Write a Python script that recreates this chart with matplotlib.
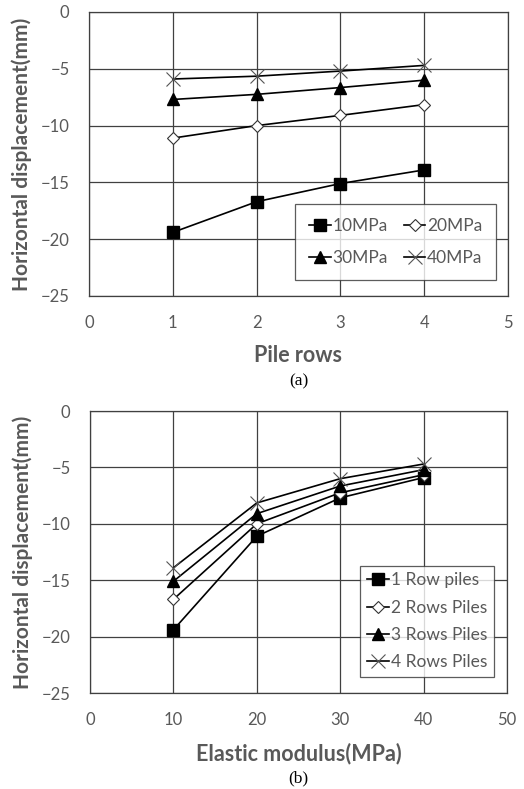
import matplotlib.pyplot as plt

plt.rcParams['font.family'] = ['Lato', 'DejaVu Sans']

pile_rows = [1, 2, 3, 4]
moduli = [10, 20, 30, 40]

# horizontal displacement (mm) per modulus, over pile rows 1..4
disp_10 = [-19.4, -16.7, -15.1, -13.9]
disp_20 = [-11.1, -10.0, -9.1, -8.15]
disp_30 = [-7.7, -7.25, -6.65, -6.0]
disp_40 = [-5.9, -5.65, -5.2, -4.7]

mod_labels = ["10MPa", "20MPa", "30MPa", "40MPa"]
row_labels = ["1 Row piles", "2 Rows Piles", "3 Rows Piles", "4 Rows Piles"]

styles = [
    dict(marker="s", markersize=8, markerfacecolor="black", markeredgecolor="black"),
    dict(marker="D", markersize=6, markerfacecolor="white", markeredgecolor="#333333", markeredgewidth=0.8),
    dict(marker="^", markersize=9, markerfacecolor="black", markeredgecolor="black"),
    dict(marker="x", markersize=10, markeredgecolor="#555555", markeredgewidth=0.8),
]

txt = "#595959"
grid_c = "#404040"

fig = plt.figure(figsize=(5.24, 7.89), dpi=100)
W, H = 524, 789
ax1 = fig.add_axes([89 / W, 1 - 296 / H, (508 - 89) / W, (296 - 12) / H])
ax2 = fig.add_axes([90 / W, 1 - 693 / H, (507 - 90) / W, (693 - 411) / H])


def style_axis(ax):
    ax.set_ylim(-25, 0)
    ax.set_yticks([0, -5, -10, -15, -20, -25])
    ax.grid(True, color=grid_c, linewidth=0.9)
    ax.set_axisbelow(True)
    for s in ax.spines.values():
        s.set_color(grid_c)
        s.set_linewidth(0.9)
    ax.tick_params(length=0, labelsize=12, labelcolor=txt, pad=14)
    ax.set_ylabel("Horizontal displacement(mm)", fontsize=15, fontweight="bold",
                  color=txt, labelpad=6)


series = [disp_10, disp_20, disp_30, disp_40]
for vals, lab, st in zip(series, mod_labels, styles):
    ax1.plot(pile_rows, vals, color="black", linewidth=1.2, label=lab, **st)
style_axis(ax1)
ax1.set_xlim(0, 5)
ax1.set_xticks([0, 1, 2, 3, 4, 5])
ax1.set_xlabel("Pile rows", fontsize=15.5, fontweight="bold", color=txt, labelpad=10)
h, l = ax1.get_legend_handles_labels()
order = [0, 2, 1, 3]
leg1 = ax1.legend([h[i] for i in order], [l[i] for i in order], ncol=2,
                  loc="lower right", bbox_to_anchor=(0.993, 0.027),
                  fontsize=12.5, labelcolor=txt, handlelength=1.25, handletextpad=0.1,
                  columnspacing=0.9, fancybox=False, borderpad=0.8, labelspacing=0.9)
leg1.get_frame().set_edgecolor("#333333")
leg1.get_frame().set_linewidth(0.9)

for i, (lab, st) in enumerate(zip(row_labels, styles)):
    vals = [s[i] for s in series]
    ax2.plot(moduli, vals, color="black", linewidth=1.2, label=lab, **st)
style_axis(ax2)
ax2.set_xlim(0, 50)
ax2.set_xticks([0, 10, 20, 30, 40, 50])
ax2.set_xlabel("Elastic modulus(MPa)", fontsize=15.5, fontweight="bold", color=txt, labelpad=10)
leg2 = ax2.legend(loc="lower right", bbox_to_anchor=(0.99, 0.025),
                  fontsize=12.5, labelcolor=txt, handlelength=1.3, handletextpad=0.1,
                  fancybox=False, borderpad=0.4, labelspacing=0.65)
leg2.get_frame().set_edgecolor("#333333")
leg2.get_frame().set_linewidth(0.9)

fig.text(0.5 * (89 + 508) / W, 1 - 381 / H, "(a)", ha="center", va="center",
         fontsize=12.5, family="Liberation Serif")
fig.text(0.5 * (90 + 507) / W, 1 - 778 / H, "(b)", ha="center", va="center",
         fontsize=12.5, family="Liberation Serif")

fig.savefig("out.png", dpi=100)
